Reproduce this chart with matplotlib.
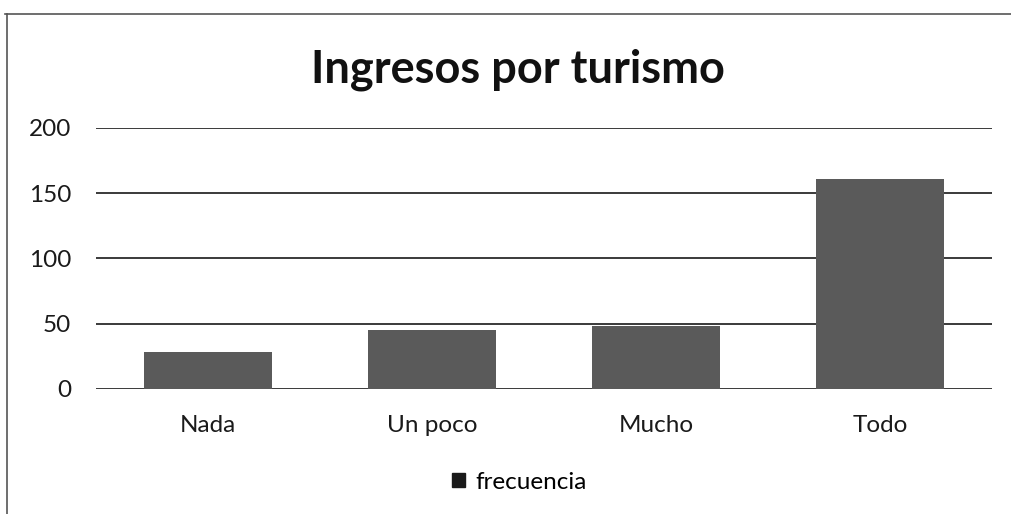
import numpy as np
import matplotlib.pyplot as plt
from matplotlib.lines import Line2D
from matplotlib.patches import Patch

plt.rcParams['font.family'] = ['Lato', 'DejaVu Sans']

categorias = ['Nada', 'Un poco', 'Mucho', 'Todo']
frecuencia = [28, 45, 48, 161]
yticks = [0, 50, 100, 150, 200]

fig = plt.figure(figsize=(10.11, 5.14), dpi=100)
ax = fig.add_axes([0.095, 0.2432, 0.886, 0.5078])

x = np.arange(len(categorias))
ax.bar(x, frecuencia, width=0.57, color='#5a5a5a', zorder=3, label='frecuencia')

ax.set_xlim(-0.5, 3.5)
ax.set_ylim(0, 200)
ax.set_yticks(yticks)
ax.set_xticks(x)
ax.set_xticklabels(categorias)
ax.tick_params(axis='both', length=0, labelsize=17.5, colors='#1a1a1a')
ax.tick_params(axis='y', pad=18)
ax.tick_params(axis='x', pad=19)
ax.yaxis.grid(True, color='#3a3a3a', linewidth=1.4, zorder=1)
for s in ax.spines.values():
    s.set_visible(False)

fig.text(0.512, 0.864, 'Ingresos por turismo', ha='center', va='center',
         fontsize=32.5, fontweight='bold', color='#111111')

handles = [Patch(color='#1a1a1a')]
fig.legend(handles, ['frecuencia'], loc='center', bbox_to_anchor=(0.514, 0.062),
           frameon=False, fontsize=17.5, handlelength=0.5, handleheight=0.5,
           handletextpad=0.45)

# border of the scanned chart
fig.add_artist(Line2D([0.005, 1.0], [0.973, 0.973], color='#555555', linewidth=1.2))
fig.add_artist(Line2D([0.007, 0.007], [0.0, 0.973], color='#555555', linewidth=1.2))

plt.savefig('out.png', dpi=100)
